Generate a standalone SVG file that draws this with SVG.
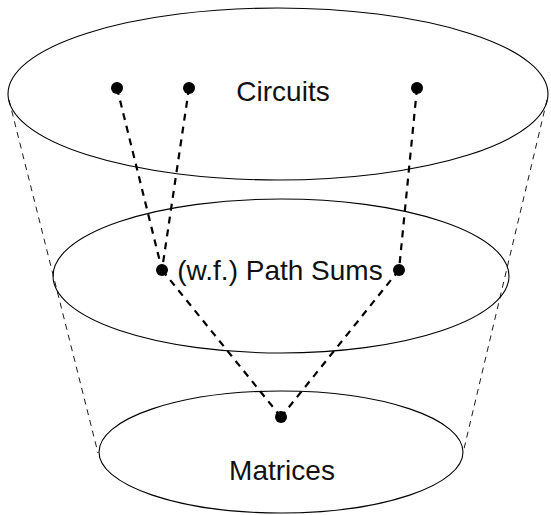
<svg xmlns="http://www.w3.org/2000/svg" width="551" height="515" viewBox="0 0 551 515">
<style>
.ell{fill:none;stroke:#000;stroke-width:1.1}
.cone{fill:none;stroke:#000;stroke-width:0.9;stroke-dasharray:6 5}
.edge{fill:none;stroke:#000;stroke-width:2.2;stroke-dasharray:7 6}
.dot{fill:#000}
text{font-family:"Liberation Sans",Arial,sans-serif;font-size:28px;fill:#111;text-anchor:middle}
</style>
<rect width="551" height="515" fill="#fff"/>
<g id="cone">
<line class="cone" x1="9" y1="100" x2="98" y2="453"/>
<line class="cone" x1="547" y1="100" x2="463" y2="453"/>
</g>
<g id="circuits">
<ellipse class="ell" cx="278" cy="94" rx="270" ry="86"/>
<text x="283" y="101">Circuits</text>
</g>
<g id="pathsums">
<ellipse class="ell" cx="281" cy="276" rx="228" ry="77"/>
<text x="280" y="280">(w.f.) Path Sums</text>
</g>
<g id="matrices">
<ellipse class="ell" cx="281" cy="452" rx="182" ry="61"/>
<text x="282" y="480">Matrices</text>
</g>
<g id="connectors">
<line class="edge" x1="117" y1="88" x2="162" y2="270"/>
<line class="edge" x1="189" y1="88" x2="162" y2="270"/>
<line class="edge" x1="417" y1="88" x2="399" y2="270"/>
<line class="edge" x1="162" y1="270" x2="281" y2="417"/>
<line class="edge" x1="399" y1="270" x2="281" y2="417"/>
</g>
<g id="dots">
<circle class="dot" cx="117" cy="88" r="6"/>
<circle class="dot" cx="189" cy="88" r="6"/>
<circle class="dot" cx="417" cy="88" r="6"/>
<circle class="dot" cx="162" cy="270" r="6"/>
<circle class="dot" cx="399" cy="270" r="6"/>
<circle class="dot" cx="281" cy="417" r="6"/>
</g>
</svg>
